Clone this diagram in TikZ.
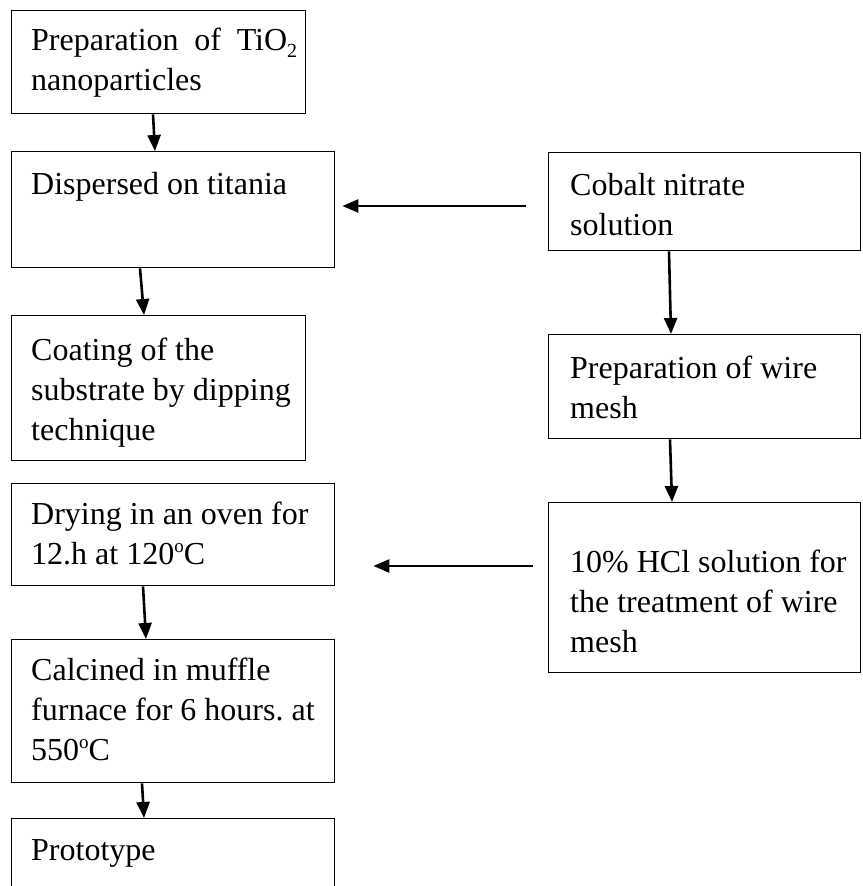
\documentclass[tikz,border=0pt]{standalone}
\usepackage{fontspec}
\setmainfont{Liberation Serif}
\usetikzlibrary{calc,arrows.meta}
\frenchspacing
\newcommand{\subtwo}{\raisebox{-0.22em}{\fontsize{20}{20}\selectfont 2}}
\newcommand{\supo}{\raisebox{0.36em}{\fontsize{19}{19}\selectfont o}}
\tikzset{
  boxnode/.style={draw, line width=1.4pt, anchor=north west, inner sep=0pt, rectangle},
  txt/.style={anchor=north west, inner sep=0pt, align=left, font=\fontsize{32}{40}\selectfont},
  arr/.style={line width=2.6pt, -{Triangle[length=16pt,width=13pt]}}
}
\begin{document}
\begin{tikzpicture}[x=1pt,y=1pt]
\useasboundingbox (0,0) rectangle (862,886);
\fill[white] (0,0) rectangle (862,886);
% left column
\node[boxnode, minimum width=294, minimum height=103] (b1) at (11,876) {};
\node[boxnode, minimum width=323, minimum height=116] (b2) at (11,735) {};
\node[boxnode, minimum width=294, minimum height=145] (b3) at (11,571) {};
\node[boxnode, minimum width=323, minimum height=102] (b4) at (11,403) {};
\node[boxnode, minimum width=323, minimum height=143] (b5) at (11,247) {};
\node[boxnode, minimum width=323, minimum height=90] (b6) at (11,68) {};
% right column
\node[boxnode, minimum width=312, minimum height=98] (bA) at (548,734) {};
\node[boxnode, minimum width=312, minimum height=104] (bB) at (548,552) {};
\node[boxnode, minimum width=312, minimum height=170] (bC) at (548,384) {};
% texts
\node[txt] (t1) at (31,864) {\makebox[266pt][s]{\strut Preparation of TiO\subtwo}\\nanoparticles};
\node[txt] (t2) at (31,720) {\strut Dispersed on titania};
\node[txt] (t3) at (31,554) {\strut Coating of the\\substrate by dipping\\technique};
\node[txt] (t4) at (31,390) {\strut Drying in an oven for\\12.h at 120\supo C};
\node[txt] (t5) at (31,234) {\strut Calcined in muffle\\furnace for 6 hours. at\\550\supo C};
\node[txt] (t6) at (31,54) {\strut Prototype};
\node[txt] (tA) at (570,719) {\strut Cobalt nitrate\\solution};
\node[txt] (tB) at (570,536) {\strut Preparation of wire\\mesh};
\node[txt] (tC) at (570,342) {\strut 10\% HCl solution for\\the treatment of wire\\mesh};
% arrows
\draw[arr] ($(b1.south west)+(142,0)$) -- ($(b2.north west)+(144,0)$);
\draw[arr] ($(b2.south west)+(129,0)$) -- ($(b3.north west)+(133,0)$);
\draw[arr] ($(b4.south west)+(132,0)$) -- ($(b5.north west)+(135,0)$);
\draw[arr] ($(b5.south west)+(131,0)$) -- ($(b6.north west)+(133,0)$);
\draw[arr] ($(bA.north west)+(-22,-54)$) -- ($(b2.north east)+(7,-55)$);
\draw[arr] ($(bA.south west)+(121,0)$) -- ($(bB.north west)+(123,0)$);
\draw[arr] ($(bB.south west)+(122,0)$) -- ($(bC.north west)+(124,0)$);
\draw[arr] ($(bC.north west)+(-15,-64)$) -- ($(b4.north east)+(38,-83)$);
\end{tikzpicture}
\end{document}
